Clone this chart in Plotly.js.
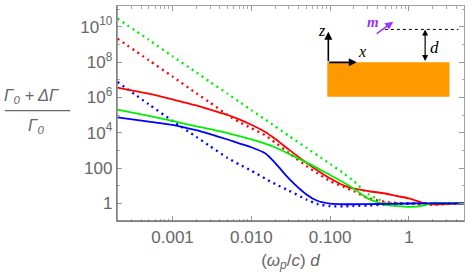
<!DOCTYPE html>
<html><head><meta charset="utf-8">
<script src="https://cdn.plot.ly/plotly-3.0.1.min.js"></script>
<style>html,body{margin:0;padding:0;background:#fff}#chart{width:471px;height:279px}</style>
</head><body><div id="chart"></div>
<script>
// (omega_p/c) d
const xValues = [0.0002, 0.0005, 0.001, 0.002, 0.003, 0.005, 0.007, 0.01, 0.015, 0.02, 0.03, 0.05, 0.07, 0.1, 0.15, 0.2, 0.3, 0.5, 0.7, 1, 1.5, 2, 3, 5];
// (Gamma0 + dGamma)/Gamma0
const greenDotted = [2.9e10, 1.8e9, 2.1e8, 2.6e7, 7.4e6, 1.6e6, 5.6e5, 1.9e5, 5.5e4, 2.3e4, 6.6e3, 1.4e3, 500, 170, 48, 18, 3.5, 1.15, 1.02, 1, 1, 1, 1, 1];
const redDotted   = [2.1e9, 1.26e8, 1.5e7, 1.7e6, 5e5, 1e5, 4e4, 1.8e4, 7e3, 2.8e3, 710, 130, 48, 18, 8.3, 4.8, 2, 1.2, 1.05, 0.95, 0.85, 0.81, 0.91, 1];
const blueDotted  = [7.4e6, 4e5, 4.6e4, 5.8e3, 1.7e3, 370, 160, 71, 25, 12.6, 5.2, 1.66, 0.89, 0.69, 0.68, 0.71, 0.76, 0.85, 0.93, 0.98, 1, 1, 1, 1];
const redSolid    = [3.6e6, 1.6e6, 7.6e5, 3.5e5, 2e5, 1e5, 5.6e4, 2.8e4, 1.1e4, 4.5e3, 1.1e3, 200, 71, 26, 10, 6.8, 5, 3.6, 2.6, 1.9, 1.07, 0.87, 0.95, 1];
const greenSolid  = [2e5, 8.9e4, 4.6e4, 2.3e4, 1.6e4, 9.3e3, 6.3e3, 4.2e3, 2.4e3, 1.5e3, 630, 209, 95, 40, 14.8, 6.8, 1.9, 0.83, 0.71, 0.63, 0.74, 1.07, 1.02, 1];
const blueSolid   = [7.4e4, 4.2e4, 2.8e4, 1.38e4, 8.2e3, 4.1e3, 2.5e3, 1.5e3, 680, 197, 25, 3.2, 1.35, 0.97, 0.89, 0.89, 0.91, 0.93, 0.95, 0.98, 1, 1, 1, 1];

const xTickVals = [0.001, 0.01, 0.1, 1];
const xTickText = ['0.001', '0.010', '0.100', '1'];
const yTickVals = [1, 100, 1e4, 1e6, 1e8, 1e10];
const yTickText = ['1', '100', '10<sup>4</sup>', '10<sup>6</sup>', '10<sup>8</sup>', '10<sup>10</sup>'];

const xMinor = [];
for (let e = -4; e <= 0; e++) for (let m = 2; m <= 9; m++) xMinor.push(m * Math.pow(10, e));
const yMinor = [0.1, 10, 1e3, 1e5, 1e7, 1e9, 1e11];

function tr(y, color, dotted) {
  return {
    x: xValues, y: y, type: 'scatter', mode: 'lines', hoverinfo: 'skip',
    line: dotted ? {color: color, width: 2.3, dash: '2px,4px', shape: 'spline', smoothing: 0.6}
                 : {color: color, width: 1.8, shape: 'spline', smoothing: 0.6}
  };
}

const data = [
  tr(greenDotted, '#00ee00', true),
  tr(redDotted, '#ff0000', true),
  tr(blueDotted, '#0000ff', true),
  tr(redSolid, '#ff0000', false),
  tr(greenSolid, '#00ee00', false),
  tr(blueSolid, '#0000ff', false)
];

const axisCommon = {
  type: 'log', showgrid: false, zeroline: false, showline: true, linecolor: '#a0a0a0', linewidth: 1.2,
  mirror: 'ticks', ticks: 'inside', ticklen: 5, tickcolor: '#999', tickwidth: 1,
  tickfont: {family: 'Liberation Sans, Arial, sans-serif', size: 17, color: '#666'}
};

const fx = 'Liberation Serif, Times New Roman, serif';
function lbl(x, y, text, font) {
  return {xref: 'paper', yref: 'paper', x: x, y: y, xanchor: 'center', yanchor: 'middle', text: text, showarrow: false, font: font};
}
function arr(x, y, ax, ay, color, w, both) {
  const a = {xref: 'paper', yref: 'paper', x: x, y: y, ax: ax, ay: ay, axref: 'pixel', ayref: 'pixel', text: '', showarrow: true,
             arrowhead: 2, arrowsize: 1, arrowwidth: w, arrowcolor: color};
  if (both) { a.arrowside = 'end+start'; a.startarrowhead = 2; a.startarrowsize = 1; }
  return a;
}

const layout = {
  width: 471, height: 279,
  margin: {l: 117, r: 7, t: 6, b: 58},
  paper_bgcolor: '#fff', plot_bgcolor: '#fff', showlegend: false,
  font: {family: 'Liberation Sans, Arial, sans-serif', color: '#666', size: 17},
  xaxis: Object.assign({}, axisCommon, {
    range: [-3.705, 0.699], tickvals: xTickVals, ticktext: xTickText,
    minor: {tickvals: xMinor, ticks: 'inside', ticklen: 2.5, tickcolor: '#aaa', showgrid: false},
    title: {text: '(<i>ω</i><sub><i>p</i></sub>/<i>c</i>) <i>d</i>', font: {size: 17, color: '#666'}, standoff: 8}
  }),
  yaxis: Object.assign({}, axisCommon, {
    range: [-1, 11.17], tickvals: yTickVals, ticktext: yTickText,
    minor: {tickvals: yMinor, ticks: 'inside', ticklen: 2.5, tickcolor: '#aaa', showgrid: false}
  }),
  shapes: [
    // darker left and bottom frame
    {type: 'line', xref: 'paper', yref: 'paper', x0: 0, x1: 0, y0: 0, y1: 1, line: {color: '#707070', width: 1.3}},
    {type: 'line', xref: 'paper', yref: 'paper', x0: 0, x1: 1, y0: 0, y1: 0, line: {color: '#707070', width: 1.3}},
    // fraction bar of y label
    {type: 'line', xref: 'paper', yref: 'paper', x0: -0.323, x1: -0.135, y0: 0.513, y1: 0.513, line: {color: '#666', width: 1.3}},
    // inset: orange slab
    {type: 'rect', xref: 'paper', yref: 'paper', x0: 0.606, x1: 0.958, y0: 0.578, y1: 0.738, fillcolor: '#ff9900', line: {width: 0}},
    // inset: dashed level of dipole
    {type: 'line', xref: 'paper', yref: 'paper', x0: 0.772, x1: 0.984, y0: 0.891, y1: 0.891, line: {color: '#000', width: 1, dash: '3px,3px'}}
  ],
  annotations: [
    lbl(-0.245, 0.582, '<i>Γ</i><sub><i>0</i></sub><i> + ΔΓ</i>', {size: 16.5, color: '#666'}),
    lbl(-0.232, 0.44, '<i>Γ</i><sub><i>0</i></sub>', {size: 16.5, color: '#666'}),
    arr(0.609, 0.880, 0, 31, '#000', 1.6, false),
    arr(0.691, 0.738, -29, 0, '#000', 1.6, false),
    arr(0.796, 0.927, -18, 13, '#9933ff', 1.6, false),
    arr(0.888, 0.891, 0, 33, '#000', 1.2, true),
    lbl(0.590, 0.888, '<i>z</i>', {family: fx, size: 16, color: '#000'}),
    lbl(0.705, 0.787, '<i>x</i>', {family: fx, size: 16, color: '#000'}),
    lbl(0.739, 0.927, '<b><i>m</i></b>', {family: fx, size: 15, color: '#9933ff'}),
    lbl(0.914, 0.808, '<i>d</i>', {family: fx, size: 17, color: '#000'})
  ]
};

Plotly.newPlot('chart', data, layout, {displayModeBar: false, staticPlot: true});
</script>
</body></html>
